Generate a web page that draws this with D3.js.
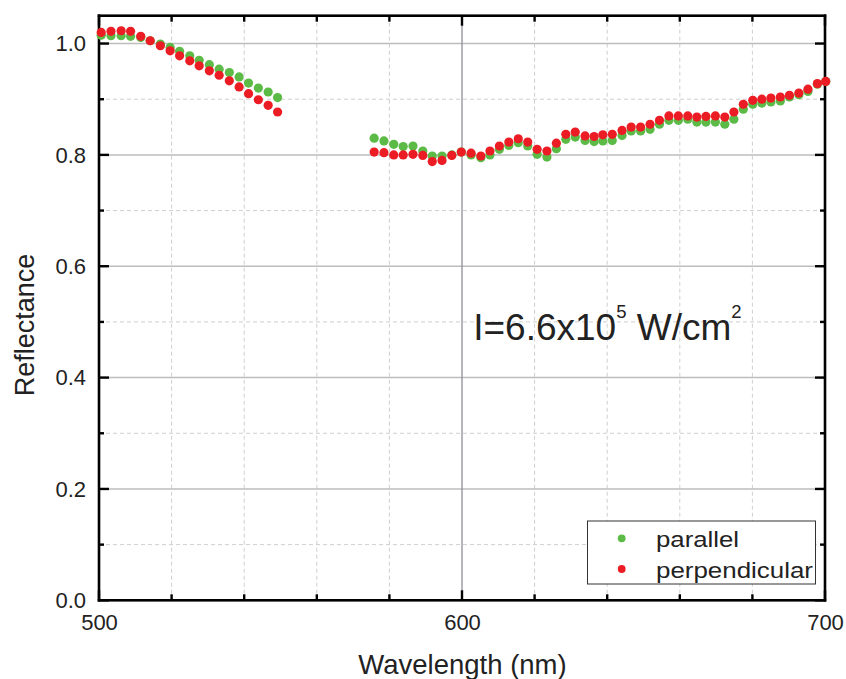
<!DOCTYPE html>
<html>
<head>
<meta charset="utf-8">
<script src="https://cdn.jsdelivr.net/npm/d3@7"></script>
<style>
  html, body { margin: 0; padding: 0; background: #fff; }
  svg { display: block; font-family: "Liberation Sans", Arial, sans-serif; }
</style>
</head>
<body>
<svg id="chart" width="846" height="679"></svg>
<script>
// Measured wavelengths (nm); the spectrometer has a gap between ~550 and ~575 nm
const wavelength = [
  500.6, 503.3, 506.1, 508.7, 511.5, 514.1, 516.9, 519.6, 522.2, 525.0,
  527.6, 530.4, 533.1, 535.9, 538.6, 541.2, 543.9, 546.6, 549.2,
  575.8, 578.5, 581.2, 583.8, 586.5, 589.2, 591.8, 594.5, 597.2, 599.8,
  602.5, 605.2, 607.7, 610.3, 612.9, 615.5, 618.1, 620.7, 623.4, 626.0,
  628.6, 631.2, 633.9, 636.4, 638.8, 641.4, 644.1, 646.6, 649.2, 651.8,
  654.4, 657.0, 659.6, 662.2, 664.7, 667.2, 669.8, 672.4, 674.9, 677.5,
  680.1, 682.6, 685.1, 687.7, 690.2, 692.8, 695.3, 697.9, 700.2
];

// Reflectance for parallel polarisation
const parallel = [
  1.015, 1.014, 1.014, 1.013, 1.011, 1.005, 0.999, 0.993, 0.986, 0.978,
  0.970, 0.962, 0.954, 0.948, 0.940, 0.929, 0.920, 0.913, 0.903,
  0.830, 0.825, 0.819, 0.815, 0.816, 0.807, 0.798, 0.798, 0.800, 0.805,
  0.800, 0.795, 0.800, 0.810, 0.817, 0.822, 0.816, 0.801, 0.796, 0.811,
  0.828, 0.832, 0.826, 0.824, 0.825, 0.826, 0.835, 0.843, 0.843, 0.846,
  0.855, 0.862, 0.862, 0.864, 0.859, 0.859, 0.859, 0.855, 0.864, 0.882,
  0.891, 0.893, 0.895, 0.897, 0.904, 0.908, 0.914, 0.927, 0.932
];

// Reflectance for perpendicular polarisation
const perpendicular = [
  1.020, 1.022, 1.023, 1.022, 1.013, 1.005, 0.996, 0.987, 0.978, 0.969,
  0.960, 0.951, 0.943, 0.933, 0.922, 0.910, 0.899, 0.889, 0.877,
  0.805, 0.804, 0.800, 0.800, 0.801, 0.799, 0.788, 0.790, 0.799, 0.805,
  0.803, 0.798, 0.807, 0.816, 0.823, 0.829, 0.823, 0.810, 0.807, 0.821,
  0.837, 0.841, 0.834, 0.833, 0.836, 0.837, 0.844, 0.850, 0.850, 0.855,
  0.862, 0.870, 0.870, 0.870, 0.868, 0.869, 0.870, 0.868, 0.877, 0.891,
  0.898, 0.900, 0.902, 0.904, 0.907, 0.911, 0.918, 0.928, 0.932
];

const seriesNames = ["parallel", "perpendicular"];
const seriesColors = ["#5cbb46", "#ec1c24"];

const xMajorTicks = [500, 600, 700];
const xMinorTicks = [520, 540, 560, 580, 620, 640, 660, 680];
const yMajorTicks = [0.0, 0.2, 0.4, 0.6, 0.8, 1.0];
const yMinorTicks = [0.1, 0.3, 0.5, 0.7, 0.9];

const svg = d3.select("#chart");
const plotLeft = 99, plotRight = 825, plotTop = 15.7, plotBottom = 600.3;

const x = d3.scaleLinear().domain([500, 700]).range([plotLeft, plotRight]);
const y = d3.scaleLinear().domain([0, 1.05]).range([plotBottom, plotTop]);

// grid
const grid = svg.append("g");
grid.append("g").selectAll("line").data(yMinorTicks).join("line")
  .attr("x1", plotLeft).attr("x2", plotRight)
  .attr("y1", d => y(d)).attr("y2", d => y(d))
  .attr("stroke", "#cfcfcf").attr("stroke-width", 1).attr("stroke-dasharray", "4,3");
grid.append("g").selectAll("line").data(xMinorTicks).join("line")
  .attr("y1", plotTop).attr("y2", plotBottom)
  .attr("x1", d => x(d)).attr("x2", d => x(d))
  .attr("stroke", "#cfcfcf").attr("stroke-width", 1).attr("stroke-dasharray", "4,3");
grid.append("g").selectAll("line").data(yMajorTicks.filter(d => d > 0)).join("line")
  .attr("x1", plotLeft).attr("x2", plotRight)
  .attr("y1", d => y(d)).attr("y2", d => y(d))
  .attr("stroke", "#bdbdbd").attr("stroke-width", 1.5);
grid.append("g").selectAll("line").data([600]).join("line")
  .attr("y1", plotTop).attr("y2", plotBottom)
  .attr("x1", d => x(d)).attr("x2", d => x(d))
  .attr("stroke", "#8e8e98").attr("stroke-width", 1.3);

// axis tick labels via d3 axes; tick marks drawn as filled bars below
const fmt = d3.format(".1f");
function styleAxis(g) {
  g.select(".domain").remove();
  g.selectAll(".tick line").remove();
  g.selectAll(".tick text").attr("fill", "#222").style("font-size", "22px")
    .style("font-family", "'Liberation Sans', Arial, sans-serif");
}
svg.append("g").attr("transform", `translate(0,${plotBottom})`)
  .call(d3.axisBottom(x).tickValues(xMajorTicks).tickSize(0).tickPadding(14.5).tickFormat(d3.format("d")))
  .call(styleAxis);
svg.append("g").attr("transform", `translate(${plotLeft},0)`)
  .call(d3.axisLeft(y).tickValues(yMajorTicks).tickSize(0).tickPadding(13).tickFormat(fmt))
  .call(styleAxis)
  .call(g => g.selectAll(".tick text").attr("dy", "0.33em"));

// inward tick marks on all four sides
const tw = 2.4;
const ticks = svg.append("g").attr("fill", "#000");
[[xMajorTicks, 10], [xMinorTicks, 6]].forEach(([vals, len]) => {
  ticks.append("g").selectAll("rect").data(vals).join("rect")
    .attr("x", d => x(d) - tw / 2).attr("y", plotBottom - len)
    .attr("width", tw).attr("height", len);
  ticks.append("g").selectAll("rect").data(vals).join("rect")
    .attr("x", d => x(d) - tw / 2).attr("y", plotTop)
    .attr("width", tw).attr("height", len);
});
[[yMajorTicks, 10], [yMinorTicks, 5]].forEach(([vals, len]) => {
  ticks.append("g").selectAll("rect").data(vals).join("rect")
    .attr("x", plotLeft).attr("y", d => y(d) - tw / 2)
    .attr("width", len).attr("height", tw);
  ticks.append("g").selectAll("rect").data(vals).join("rect")
    .attr("x", plotRight - len).attr("y", d => y(d) - tw / 2)
    .attr("width", len).attr("height", tw);
});

// frame as four filled bars
const fw = 2.6;
const frame = [
  [plotLeft - fw / 2, plotTop - fw / 2, plotRight - plotLeft + fw, fw],
  [plotLeft - fw / 2, plotBottom - fw / 2, plotRight - plotLeft + fw, fw],
  [plotLeft - fw / 2, plotTop - fw / 2, fw, plotBottom - plotTop + fw],
  [plotRight - fw / 2, plotTop - fw / 2, fw, plotBottom - plotTop + fw]
];
svg.append("g").selectAll("rect").data(frame).join("rect")
  .attr("x", d => d[0]).attr("y", d => d[1])
  .attr("width", d => d[2]).attr("height", d => d[3])
  .attr("fill", "#000");

// data points
[parallel, perpendicular].forEach((vals, i) => {
  svg.append("g").selectAll("circle")
    .data(wavelength.map((w, j) => [w, vals[j]]))
    .join("circle")
    .attr("cx", d => x(d[0])).attr("cy", d => y(d[1]))
    .attr("r", 4.6)
    .attr("fill", seriesColors[i]);
});

// axis titles
svg.append("text")
  .attr("x", 462.5).attr("y", 673.5)
  .attr("text-anchor", "middle")
  .attr("fill", "#222").style("font-size", "27.5px")
  .text("Wavelength (nm)");
svg.append("text")
  .attr("transform", "translate(33.5,325) rotate(-90)")
  .attr("text-anchor", "middle")
  .attr("fill", "#222").style("font-size", "27px")
  .text("Reflectance");

// intensity annotation
const ann = svg.append("text")
  .attr("x", 473.2).attr("y", 340)
  .attr("fill", "#222").style("font-size", "37px");
ann.append("tspan").text("I=6.6x10");
ann.append("tspan").attr("dy", -22).style("font-size", "18.5px").text("5");
ann.append("tspan").attr("dy", 22).text(" W/cm");
ann.append("tspan").attr("dy", -22).style("font-size", "18.5px").text("2");

// legend
const legendWidths = [83, 157];
const legend = svg.append("g");
legend.append("rect")
  .attr("x", 587.5).attr("y", 521)
  .attr("width", 228).attr("height", 63)
  .attr("fill", "#fff").attr("stroke", "#333").attr("stroke-width", 1);
seriesNames.forEach((name, i) => {
  legend.append("circle")
    .attr("cx", 621.7).attr("cy", 538.3 + i * 30.7)
    .attr("r", 3.9).attr("fill", seriesColors[i]);
  legend.append("text")
    .attr("x", 656).attr("y", 546.7 + i * 31)
    .attr("fill", "#222").style("font-size", "22px")
    .attr("textLength", legendWidths[i]).attr("lengthAdjust", "spacingAndGlyphs")
    .text(name);
});
</script>
</body>
</html>
